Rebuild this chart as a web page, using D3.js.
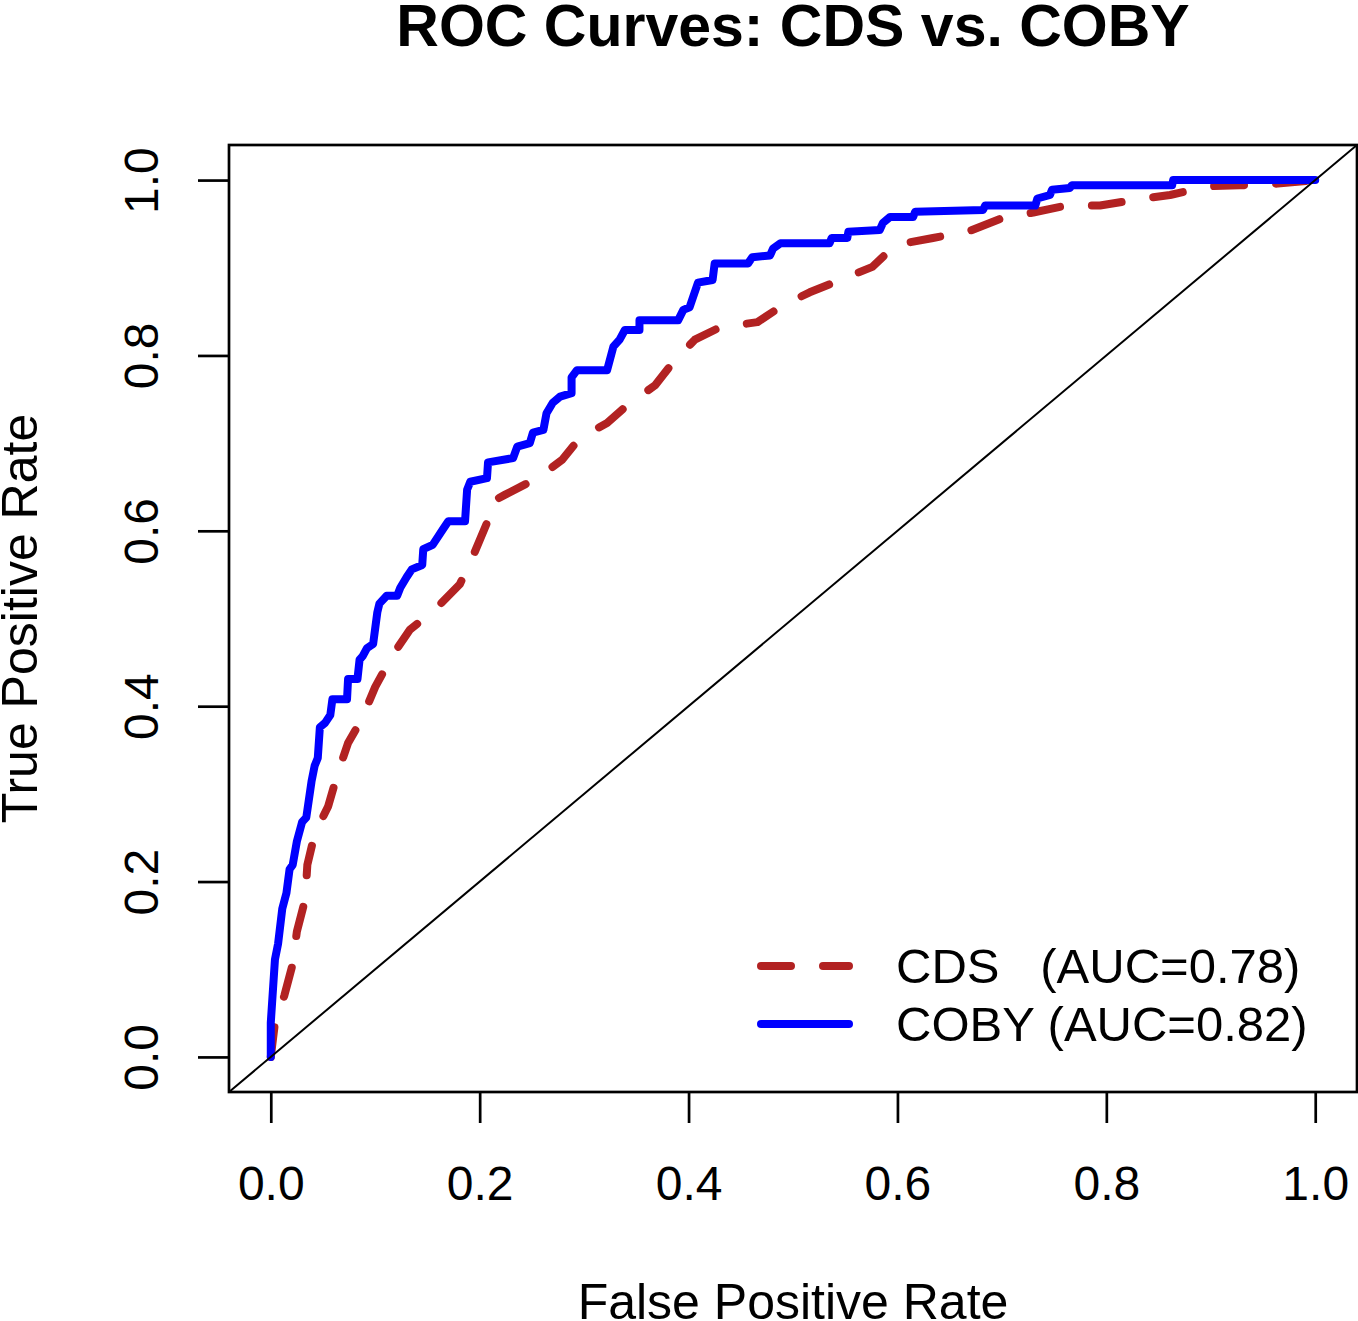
<!DOCTYPE html>
<html>
<head>
<meta charset="utf-8">
<script src="https://cdn.jsdelivr.net/npm/d3@7"></script>
<style>
  body { margin: 0; background: #fff; }
  svg { display: block; font-family: "Liberation Sans", Arial, sans-serif; }
</style>
</head>
<body>
<svg id="roc"></svg>
<script>
  // values
  const cdsFpr = [0, 0.004, 0.013, 0.021, 0.025, 0.033, 0.035, 0.042, 0.055, 0.064, 0.074, 0.087, 0.100, 0.116,
    0.133, 0.157, 0.181, 0.195, 0.208, 0.210, 0.224, 0.255, 0.279, 0.296, 0.322, 0.341, 0.368, 0.385, 0.406,
    0.430, 0.466, 0.490, 0.516, 0.545, 0.576, 0.598, 0.634, 0.667, 0.701, 0.730, 0.762, 0.794, 0.830, 0.861,
    0.898, 0.928, 0.964, 1];
  const cdsTpr = [0, 0.039, 0.070, 0.106, 0.143, 0.180, 0.219, 0.254, 0.286, 0.323, 0.358, 0.385, 0.422, 0.457,
    0.487, 0.510, 0.539, 0.575, 0.612, 0.632, 0.641, 0.660, 0.681, 0.706, 0.723, 0.743, 0.766, 0.792, 0.818,
    0.832, 0.838, 0.857, 0.872, 0.886, 0.901, 0.926, 0.934, 0.941, 0.957, 0.963, 0.971, 0.971, 0.978, 0.983,
    0.993, 0.994, 0.996, 1];

  const cobyFpr = [0, 0, 0.004, 0.007, 0.011, 0.015, 0.018, 0.021, 0.025, 0.030, 0.034, 0.039, 0.042, 0.045,
    0.047, 0.052, 0.057, 0.059, 0.073, 0.074, 0.083, 0.085, 0.088, 0.092, 0.098, 0.102, 0.104, 0.111, 0.121,
    0.124, 0.130, 0.135, 0.145, 0.146, 0.155, 0.165, 0.170, 0.186, 0.188, 0.191, 0.207, 0.208, 0.232, 0.236,
    0.248, 0.251, 0.261, 0.264, 0.270, 0.277, 0.288, 0.288, 0.293, 0.322, 0.328, 0.334, 0.339, 0.353, 0.353,
    0.390, 0.395, 0.401, 0.409, 0.423, 0.425, 0.457, 0.461, 0.478, 0.481, 0.488, 0.535, 0.537, 0.552, 0.553,
    0.583, 0.586, 0.593, 0.615, 0.617, 0.682, 0.684, 0.732, 0.734, 0.746, 0.748, 0.765, 0.767, 0.863, 0.864, 1];
  const cobyTpr = [0, 0.039, 0.111, 0.129, 0.169, 0.187, 0.214, 0.219, 0.246, 0.268, 0.273, 0.314, 0.332, 0.341,
    0.376, 0.381, 0.390, 0.408, 0.408, 0.431, 0.431, 0.453, 0.457, 0.466, 0.471, 0.507, 0.517, 0.526, 0.526,
    0.535, 0.547, 0.556, 0.561, 0.579, 0.584, 0.602, 0.611, 0.611, 0.647, 0.656, 0.660, 0.678, 0.683, 0.696,
    0.700, 0.712, 0.715, 0.734, 0.746, 0.753, 0.757, 0.775, 0.783, 0.783, 0.810, 0.818, 0.829, 0.829, 0.840,
    0.840, 0.852, 0.855, 0.883, 0.886, 0.905, 0.905, 0.912, 0.914, 0.922, 0.928, 0.928, 0.934, 0.934, 0.941,
    0.943, 0.951, 0.958, 0.958, 0.964, 0.966, 0.971, 0.971, 0.979, 0.983, 0.989, 0.991, 0.994, 0.994, 1, 1];

  const tickValues = [0, 0.2, 0.4, 0.6, 0.8, 1.0];
  const seriesNames = ['CDS   (AUC=0.78)', 'COBY (AUC=0.82)'];
  const seriesColors = ['#B22222', '#0000FF'];
  const seriesDash = ['30,32', null];

  const WIDTH = 1358;
  const HEIGHT = 1321;
  const BOX = {left: 229, right: 1357, top: 145, bottom: 1092};

  const x = d3.scaleLinear().domain([-0.04, 1.04]).range([BOX.left, BOX.right]);
  const y = d3.scaleLinear().domain([-0.04, 1.04]).range([BOX.bottom, BOX.top]);

  const svg = d3.select('#roc')
    .attr('width', WIDTH)
    .attr('height', HEIGHT);

  svg.append('defs')
    .append('clipPath')
    .attr('id', 'plotArea')
    .append('rect')
    .attr('x', BOX.left)
    .attr('y', BOX.top)
    .attr('width', BOX.right - BOX.left)
    .attr('height', BOX.bottom - BOX.top);

  const plot = svg.append('g').attr('clip-path', 'url(#plotArea)');

  const line = d3.line()
    .x((d) => x(d[0]))
    .y((d) => y(d[1]));

  const series = [
    d3.zip(cdsFpr, cdsTpr),
    d3.zip(cobyFpr, cobyTpr)
  ];

  series.forEach((pts, i) => {
    plot.append('path')
      .datum(pts)
      .attr('d', line)
      .attr('fill', 'none')
      .attr('stroke', seriesColors[i])
      .attr('stroke-width', 8)
      .attr('stroke-linecap', 'round')
      .attr('stroke-linejoin', 'round')
      .attr('stroke-dasharray', seriesDash[i]);
  });

  // reference diagonal, drawn last like abline()
  plot.append('line')
    .attr('x1', x(-0.04)).attr('y1', y(-0.04))
    .attr('x2', x(1.04)).attr('y2', y(1.04))
    .attr('stroke', '#000')
    .attr('stroke-width', 2);

  svg.append('rect')
    .attr('x', BOX.left)
    .attr('y', BOX.top)
    .attr('width', BOX.right - BOX.left)
    .attr('height', BOX.bottom - BOX.top)
    .attr('fill', 'none')
    .attr('stroke', '#000')
    .attr('stroke-width', 2.7);

  const fmt = d3.format('.1f');

  const xAxis = svg.append('g')
    .attr('transform', `translate(0, ${BOX.bottom})`)
    .call(d3.axisBottom(x).tickValues(tickValues).tickFormat(fmt).tickSize(31).tickPadding(43));

  const yAxis = svg.append('g')
    .attr('transform', `translate(${BOX.left}, 0)`)
    .call(d3.axisLeft(y).tickValues(tickValues).tickFormat(fmt).tickSize(31));

  [xAxis, yAxis].forEach((g) => {
    g.select('.domain').remove();
    g.selectAll('.tick line').attr('stroke', '#000').attr('stroke-width', 2.7);
    g.selectAll('.tick text')
      .attr('fill', '#000')
      .attr('font-size', 48)
      .attr('font-family', '"Liberation Sans", Arial, sans-serif');
  });

  yAxis.selectAll('.tick text')
    .attr('x', null)
    .attr('dy', null)
    .attr('text-anchor', 'middle')
    .attr('transform', 'translate(-71, 0) rotate(-90)');

  svg.append('text')
    .attr('x', (BOX.left + BOX.right) / 2)
    .attr('y', 46)
    .attr('text-anchor', 'middle')
    .attr('font-size', 59)
    .attr('font-weight', 'bold')
    .text('ROC Curves: CDS vs. COBY');

  svg.append('text')
    .attr('x', (BOX.left + BOX.right) / 2)
    .attr('y', 1319)
    .attr('text-anchor', 'middle')
    .attr('font-size', 50)
    .text('False Positive Rate');

  svg.append('text')
    .attr('transform', `translate(37, ${(BOX.top + BOX.bottom) / 2}) rotate(-90)`)
    .attr('text-anchor', 'middle')
    .attr('font-size', 50)
    .text('True Positive Rate');

  // legend
  const legend = svg.append('g');
  seriesNames.forEach((name, i) => {
    const ly = 966 + i * 58;
    legend.append('line')
      .attr('x1', 761).attr('x2', 849)
      .attr('y1', ly).attr('y2', ly)
      .attr('stroke', seriesColors[i])
      .attr('stroke-width', 8)
      .attr('stroke-linecap', 'round')
      .attr('stroke-dasharray', seriesDash[i]);
    legend.append('text')
      .attr('x', 896)
      .attr('y', ly + 17)
      .attr('font-size', 49)
      .style('white-space', 'pre')
      .text(name);
  });
</script>
</body>
</html>
